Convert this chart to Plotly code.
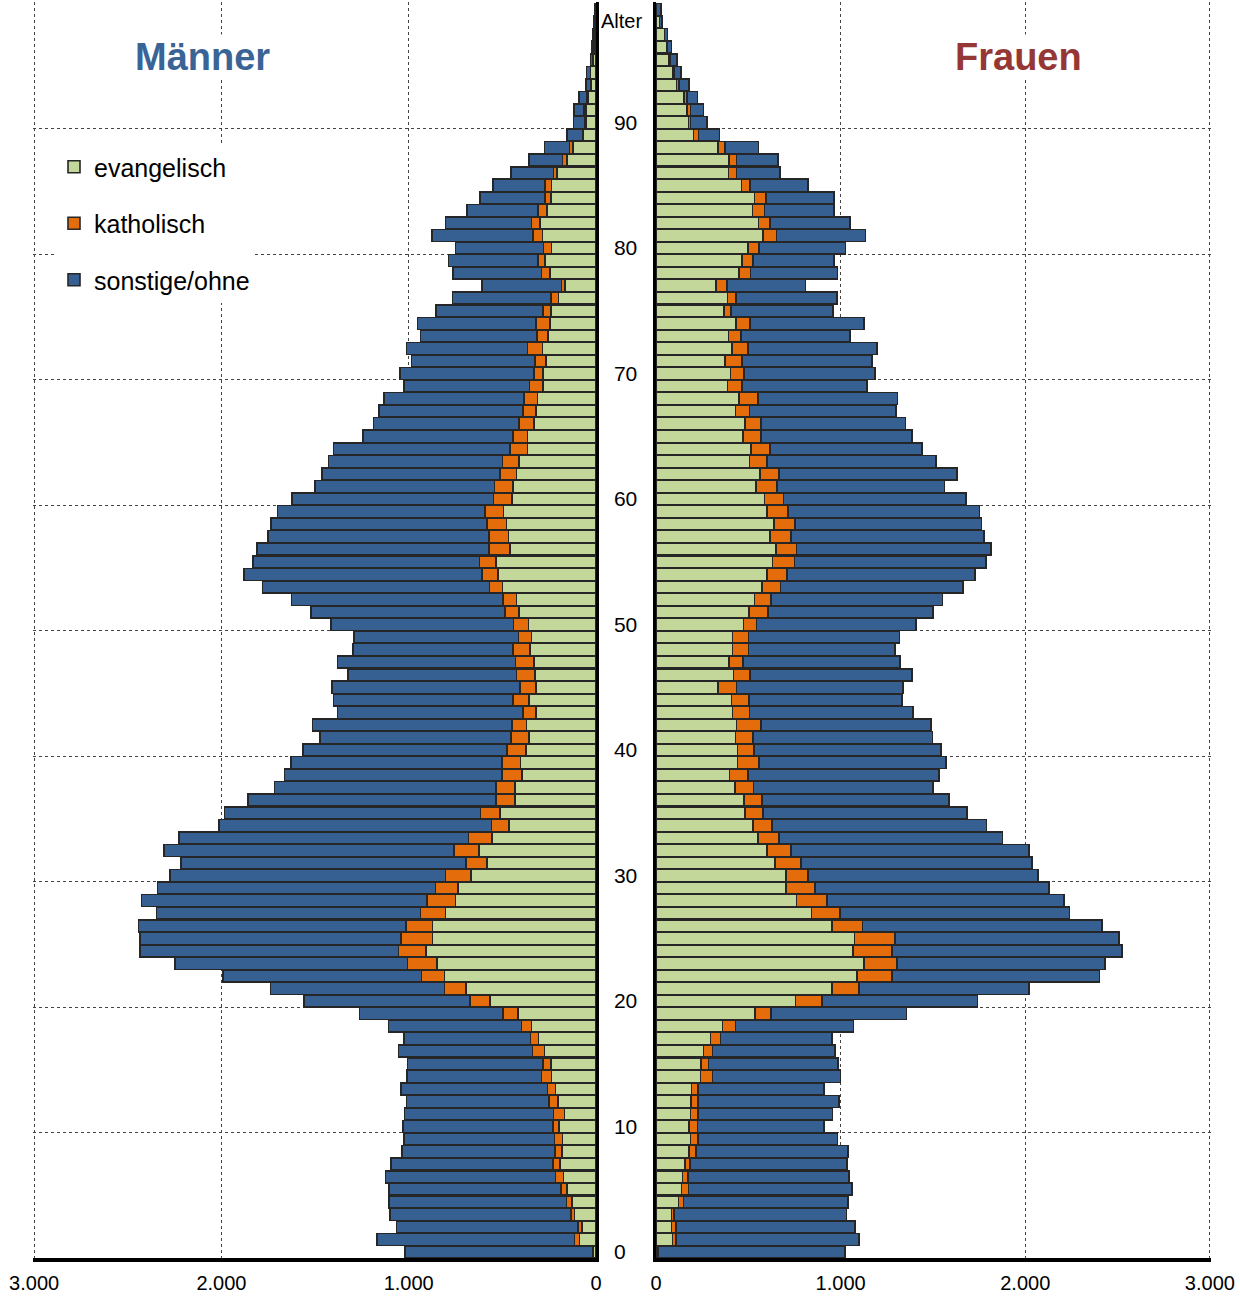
import plotly.graph_objects as go

# ---------------- data (ages 0 .. 99) ----------------
ages = list(range(100))

# Männer
m_evangelisch = [16, 89, 75, 114, 128, 154, 174, 193, 181, 178,
                 197, 168, 203, 217, 237, 241, 276, 306, 345, 418,
                 566, 694, 809, 848, 907, 872, 872, 803, 750, 736,
                 667, 582, 625, 556, 464, 513, 434, 434, 394, 404,
                 375, 359, 371, 320, 359, 320, 325, 331, 351, 345,
                 361, 410, 424, 499, 523, 533, 458, 467, 477, 493,
                 448, 444, 424, 410, 365, 365, 331, 320, 312, 282,
                 282, 266, 286, 256, 247, 241, 201, 164, 247, 272,
                 237, 286, 300, 262, 241, 237, 207, 154, 124, 69,
                 55, 53, 42, 24, 30, 16, 10, 8, 5, 3]
m_katholisch = [2, 26, 20, 20, 30, 34, 43, 37, 39, 43,
                34, 59, 49, 43, 55, 41, 63, 43, 53, 79,
                108, 114, 122, 158, 148, 168, 144, 134, 152, 122,
                136, 112, 134, 124, 93, 103, 99, 99, 108, 99,
                99, 95, 79, 69, 85, 85, 99, 99, 93, 69,
                79, 77, 73, 69, 85, 89, 114, 105, 105, 99,
                99, 99, 89, 89, 95, 79, 79, 71, 73, 73,
                49, 59, 79, 59, 73, 41, 39, 20, 45, 37,
                43, 49, 45, 49, 30, 36, 20, 24, 18, 4,
                4, 12, 5, 4, 0, 0, 0, 0, 0, 0]
m_sonstige = [1003, 1055, 970, 966, 947, 917, 907, 864, 815, 805,
              801, 795, 759, 781, 718, 724, 716, 677, 710, 765,
              884, 931, 1061, 1243, 1379, 1396, 1426, 1410, 1525, 1483,
              1473, 1521, 1548, 1548, 1456, 1367, 1325, 1183, 1162, 1124,
              1089, 1020, 1063, 992, 957, 1006, 901, 951, 854, 878,
              974, 1036, 1128, 1213, 1270, 1209, 1237, 1180, 1154, 1108,
              1077, 957, 951, 929, 941, 799, 777, 769, 746, 671,
              714, 661, 647, 621, 633, 572, 527, 424, 471, 479,
              471, 542, 458, 377, 347, 276, 227, 181, 134, 83,
              62, 53, 44, 24, 20, 14, 12, 7, 5, 3]

# Frauen
f_evangelisch = [10, 90, 85, 85, 121, 139, 143, 157, 179, 186,
                 179, 186, 188, 193, 242, 244, 258, 296, 361, 535,
                 755, 952, 1089, 1127, 1066, 1075, 952, 842, 761, 705,
                 705, 645, 602, 553, 526, 482, 477, 428, 399, 441,
                 441, 430, 437, 414, 408, 336, 419, 394, 414, 414,
                 473, 504, 533, 573, 600, 632, 651, 618, 638, 600,
                 587, 542, 564, 506, 515, 470, 482, 430, 448, 387,
                 403, 374, 410, 392, 432, 369, 387, 325, 448, 466,
                 497, 578, 555, 522, 533, 463, 392, 394, 336, 202,
                 175, 168, 152, 112, 92, 72, 56, 45, 20, 3]
f_katholisch = [4, 18, 22, 13, 27, 36, 31, 27, 38, 40,
                45, 40, 38, 36, 63, 40, 47, 54, 69, 89,
                143, 148, 188, 177, 211, 219, 167, 155, 166, 155,
                119, 139, 130, 112, 101, 99, 96, 101, 99, 116,
                90, 94, 132, 92, 96, 101, 90, 78, 87, 87,
                72, 101, 90, 101, 108, 119, 110, 112, 116, 116,
                103, 112, 103, 96, 101, 98, 87, 76, 103, 78,
                74, 92, 87, 67, 78, 36, 45, 58, 63, 60,
                60, 74, 63, 65, 63, 46, 44, 42, 38, 29,
                12, 18, 16, 12, 5, 4, 4, 0, 0, 0]
f_sonstige = [1010, 990, 970, 934, 891, 887, 871, 851, 823, 758,
              685, 729, 765, 680, 694, 701, 665, 604, 639, 733,
              843, 920, 1125, 1129, 1248, 1213, 1296, 1243, 1284, 1267,
              1245, 1254, 1288, 1212, 1162, 1102, 1015, 972, 1034, 1014,
              1012, 974, 922, 886, 827, 900, 878, 850, 793, 817,
              862, 894, 929, 990, 1019, 1035, 1052, 1048, 1010, 1037,
              988, 909, 963, 916, 826, 820, 782, 795, 757, 679,
              708, 705, 701, 593, 616, 553, 549, 427, 472, 437,
              470, 482, 432, 378, 367, 314, 235, 224, 181, 112,
              90, 72, 56, 55, 38, 38, 25, 18, 14, 25]

series_names = ["evangelisch", "katholisch", "sonstige/ohne"]
x_tickvals = [0, 1000, 2000, 3000]
x_ticktext = ["0", "1.000", "2.000", "3.000"]
age_tickvals = [0, 10, 20, 30, 40, 50, 60, 70, 80, 90]
age_ticktext = ["0", "10", "20", "30", "40", "50", "60", "70", "80", "90"]
grid_ages = [9.5, 19.5, 29.5, 39.5, 49.5, 59.5, 69.5, 79.5, 89.5, 99.5]

# ---------------- styling ----------------
GREEN = "#C4D79B"
ORANGE = "#E46C0A"
BLUE = "#376092"
EDGE = "#262626"
colors = [GREEN, ORANGE, BLUE]
FONT = "Arial, Liberation Sans, sans-serif"
W, H = 1240, 1298

def px(v):
    return v / W

def py(v):
    return 1 - v / H

fig = go.Figure()

male = [m_evangelisch, m_katholisch, m_sonstige]
female = [f_evangelisch, f_katholisch, f_sonstige]

for i, (name, vals) in enumerate(zip(series_names, male)):
    fig.add_trace(go.Bar(
        y=ages, x=vals, orientation="h", name=name,
        marker=dict(color=colors[i], line=dict(color=EDGE, width=1.6)),
        xaxis="x", yaxis="y", legendgroup=name, showlegend=True,
        hoverinfo="x+y+name"))
for i, (name, vals) in enumerate(zip(series_names, female)):
    fig.add_trace(go.Bar(
        y=ages, x=vals, orientation="h", name=name,
        marker=dict(color=colors[i], line=dict(color=EDGE, width=1.6)),
        xaxis="x2", yaxis="y2", legendgroup=name, showlegend=False,
        hoverinfo="x+y+name"))

ydom = [1 - 1258.3 / H, 1 - 2.3 / H]
grid_common = dict(showgrid=True, griddash="dot", gridcolor="#444444", gridwidth=1)

xcommon = dict(tickvals=x_tickvals, ticktext=x_ticktext, zeroline=False,
               showline=True, linecolor="black", linewidth=3.5,
               ticks="outside", ticklen=4, tickcolor="rgba(0,0,0,0)",
               tickfont=dict(family=FONT, size=20, color="black"),
               automargin=False, **grid_common)

fig.update_layout(
    width=W, height=H, autosize=False,
    margin=dict(l=0, r=0, t=0, b=0, autoexpand=False),
    paper_bgcolor="white", plot_bgcolor="white",
    barmode="stack", bargap=0.04,
    font=dict(family=FONT, color="black"),
    xaxis=dict(domain=[px(33), px(596)], range=[3006, 0], anchor="y", **xcommon),
    xaxis2=dict(domain=[px(656), px(1211)], range=[0, 3006], anchor="y2", **xcommon),
    yaxis=dict(domain=ydom, range=[-0.5, 99.58], anchor="x", side="right",
               tickvals=age_tickvals, ticktext=age_ticktext,
               ticks="outside", ticklen=11, tickcolor="rgba(0,0,0,0)",
               tickfont=dict(family=FONT, size=21, color="black"),
               showline=True, linecolor="black", linewidth=2.5,
               showgrid=False, zeroline=False, automargin=False,
               minor=dict(tickvals=grid_ages, ticks="", **grid_common)),
    yaxis2=dict(domain=ydom, range=[-0.5, 99.58], anchor="x2", side="left",
                showticklabels=False, ticks="",
                showline=True, linecolor="black", linewidth=2.5,
                showgrid=False, zeroline=False, automargin=False,
                minor=dict(tickvals=grid_ages, ticks="", **grid_common)),
    legend=dict(x=px(54), y=py(144), xanchor="left", yanchor="top",
                bgcolor="white", font=dict(family=FONT, size=25, color="black"),
                traceorder="grouped", tracegroupgap=21, itemwidth=30),
    showlegend=True,
)

fig.add_annotation(text="<b>Männer</b>", x=px(203), y=py(57), xref="paper", yref="paper",
                   xanchor="center", yanchor="middle",
                   showarrow=False, bgcolor="white",
                   font=dict(family=FONT, size=38, color="#3A6496"))
fig.add_annotation(text="<b>Frauen</b>", x=px(1018), y=py(57), xref="paper", yref="paper",
                   xanchor="center", yanchor="middle",
                   showarrow=False, bgcolor="white",
                   font=dict(family=FONT, size=38, color="#953735"))
fig.add_annotation(text="Alter", x=px(599), y=py(21), xref="paper", yref="paper",
                   xanchor="left", yanchor="middle", showarrow=False,
                   font=dict(family=FONT, size=20, color="black"))

fig.write_html("out.html", config={"displayModeBar": False},
               post_script="document.body.style.margin='0';document.body.style.overflow='hidden';")
